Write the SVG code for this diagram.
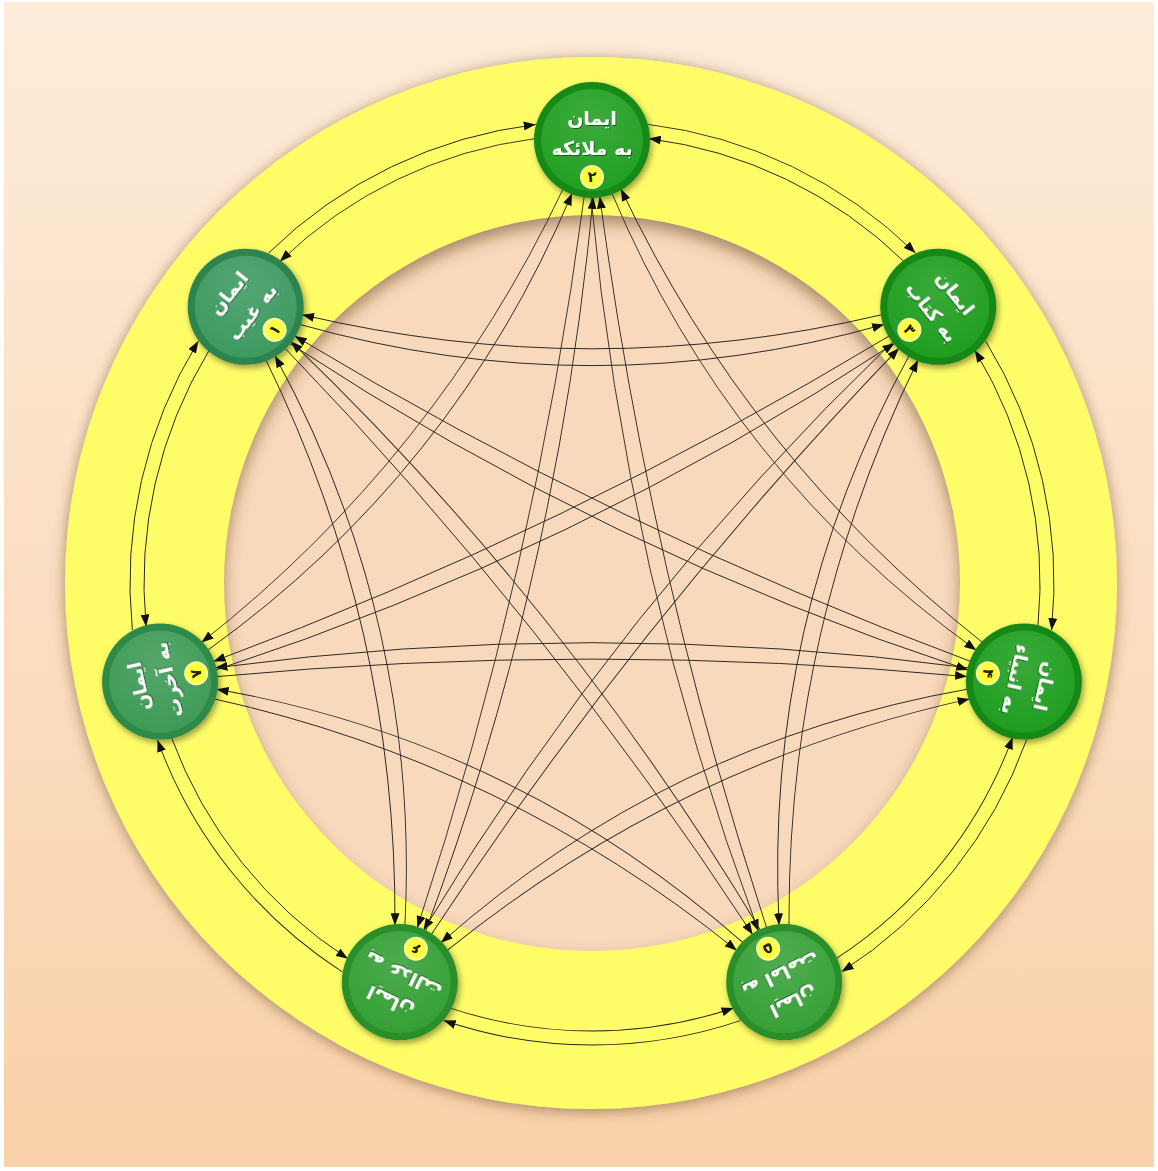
<svg xmlns="http://www.w3.org/2000/svg" width="1158" height="1171" viewBox="0 0 1158 1171">
<defs>
<linearGradient id="bg" x1="0" y1="0" x2="0" y2="1">
<stop offset="0" stop-color="#FDECDA"/>
<stop offset="1" stop-color="#F9D1AA"/>
</linearGradient>
<radialGradient id="hl" cx="0.5" cy="0.3" r="0.7">
<stop offset="0" stop-color="#ffffff" stop-opacity="0.12"/>
<stop offset="1" stop-color="#ffffff" stop-opacity="0"/>
</radialGradient>
<filter id="ringsh" x="-10%" y="-10%" width="120%" height="120%">
<feGaussianBlur in="SourceAlpha" stdDeviation="7"/>
<feOffset dx="0" dy="2" result="b"/>
<feFlood flood-color="#5a3a1a" flood-opacity="0.55"/>
<feComposite in2="b" operator="in"/>
<feMerge><feMergeNode/><feMergeNode in="SourceGraphic"/></feMerge>
</filter>
<filter id="blur8" x="-10%" y="-10%" width="120%" height="120%">
<feGaussianBlur stdDeviation="8"/>
</filter>
<filter id="nsh" x="-30%" y="-30%" width="160%" height="160%">
<feDropShadow dx="2" dy="3" stdDeviation="3" flood-color="#000" flood-opacity="0.4"/>
</filter>
<filter id="tsh" x="-20%" y="-20%" width="140%" height="140%">
<feDropShadow dx="1" dy="1" stdDeviation="0.6" flood-color="#000" flood-opacity="0.45"/>
</filter>
<clipPath id="innerClip"><circle cx="592" cy="583" r="368"/></clipPath>
<marker id="ah" markerUnits="userSpaceOnUse" markerWidth="12" markerHeight="9" viewBox="0 0 12 9" refX="12" refY="4.5" orient="auto">
<path d="M0,0 L12,4.5 L0,9 z" fill="#111"/>
</marker>
<style>
.edge{fill:none;stroke:#262626;stroke-width:0.9;marker-end:url(#ah)}
.lbl{font-family:"DejaVu Sans",sans-serif;font-weight:bold;font-size:19px;fill:#ffffff;text-anchor:middle}
.num{font-family:"DejaVu Sans",sans-serif;font-weight:bold;font-size:15px;fill:#222222;text-anchor:middle}
.badge{fill:#FFFF3A;stroke:#FFFFA8;stroke-width:2}
.hl{fill:url(#hl)}
</style>
</defs>

<rect x="0" y="0" width="1158" height="1171" fill="#ffffff"/>
<rect x="4" y="2" width="1150" height="1165" fill="url(#bg)"/>

<circle cx="591" cy="583" r="526" fill="#FEFD68" filter="url(#ringsh)"/>
<circle cx="592" cy="583" r="368" fill="#F9D9BC"/>
<g clip-path="url(#innerClip)">
<circle cx="592" cy="591" r="380" fill="none" stroke="#5a3a1a" stroke-opacity="0.55" stroke-width="22" filter="url(#blur8)"/>
</g>

<g id="connectors">
<g id="fan2">
<path class="edge" d="M648.3,124.4 A462,462 0 0 1 915.4,253.1"/>
<path class="edge" d="M535.1,138.6 A448,448 0 0 0 280.0,261.5"/>
<path class="edge" d="M612.0,193.4 Q729.8,473.2 976.3,650.2"/>
<path class="edge" d="M563.0,189.1 Q435.5,458.2 201.5,642.4"/>
<path class="edge" d="M590.9,197.0 Q625.7,575.3 758.5,931.3"/>
<path class="edge" d="M584.2,196.5 Q534.9,570.0 417.3,927.8"/>
</g>
<g id="fan3" transform="rotate(51.4286 592 583)">
<path class="edge" d="M648.3,124.4 A462,462 0 0 1 915.4,253.1"/>
<path class="edge" d="M535.1,138.6 A448,448 0 0 0 280.0,261.5"/>
<path class="edge" d="M612.0,193.4 Q729.8,473.2 976.3,650.2"/>
<path class="edge" d="M563.0,189.1 Q435.5,458.2 201.5,642.4"/>
<path class="edge" d="M590.9,197.0 Q625.7,575.3 758.5,931.3"/>
<path class="edge" d="M584.2,196.5 Q534.9,570.0 417.3,927.8"/>
</g>
<g id="fan4" transform="rotate(102.8571 592 583)">
<path class="edge" d="M648.3,124.4 A462,462 0 0 1 915.4,253.1"/>
<path class="edge" d="M535.1,138.6 A448,448 0 0 0 280.0,261.5"/>
<path class="edge" d="M612.0,193.4 Q729.8,473.2 976.3,650.2"/>
<path class="edge" d="M563.0,189.1 Q435.5,458.2 201.5,642.4"/>
<path class="edge" d="M590.9,197.0 Q625.7,575.3 758.5,931.3"/>
<path class="edge" d="M584.2,196.5 Q534.9,570.0 417.3,927.8"/>
</g>
<g id="fan5" transform="rotate(154.2857 592 583)">
<path class="edge" d="M648.3,124.4 A462,462 0 0 1 915.4,253.1"/>
<path class="edge" d="M535.1,138.6 A448,448 0 0 0 280.0,261.5"/>
<path class="edge" d="M612.0,193.4 Q729.8,473.2 976.3,650.2"/>
<path class="edge" d="M563.0,189.1 Q435.5,458.2 201.5,642.4"/>
<path class="edge" d="M590.9,197.0 Q625.7,575.3 758.5,931.3"/>
<path class="edge" d="M584.2,196.5 Q534.9,570.0 417.3,927.8"/>
</g>
<g id="fan6" transform="rotate(205.7143 592 583)">
<path class="edge" d="M648.3,124.4 A462,462 0 0 1 915.4,253.1"/>
<path class="edge" d="M535.1,138.6 A448,448 0 0 0 280.0,261.5"/>
<path class="edge" d="M612.0,193.4 Q729.8,473.2 976.3,650.2"/>
<path class="edge" d="M563.0,189.1 Q435.5,458.2 201.5,642.4"/>
<path class="edge" d="M590.9,197.0 Q625.7,575.3 758.5,931.3"/>
<path class="edge" d="M584.2,196.5 Q534.9,570.0 417.3,927.8"/>
</g>
<g id="fan7" transform="rotate(257.1429 592 583)">
<path class="edge" d="M648.3,124.4 A462,462 0 0 1 915.4,253.1"/>
<path class="edge" d="M535.1,138.6 A448,448 0 0 0 280.0,261.5"/>
<path class="edge" d="M612.0,193.4 Q729.8,473.2 976.3,650.2"/>
<path class="edge" d="M563.0,189.1 Q435.5,458.2 201.5,642.4"/>
<path class="edge" d="M590.9,197.0 Q625.7,575.3 758.5,931.3"/>
<path class="edge" d="M584.2,196.5 Q534.9,570.0 417.3,927.8"/>
</g>
<g id="fan1" transform="rotate(308.5714 592 583)">
<path class="edge" d="M648.3,124.4 A462,462 0 0 1 915.4,253.1"/>
<path class="edge" d="M535.1,138.6 A448,448 0 0 0 280.0,261.5"/>
<path class="edge" d="M612.0,193.4 Q729.8,473.2 976.3,650.2"/>
<path class="edge" d="M563.0,189.1 Q435.5,458.2 201.5,642.4"/>
<path class="edge" d="M590.9,197.0 Q625.7,575.3 758.5,931.3"/>
<path class="edge" d="M584.2,196.5 Q534.9,570.0 417.3,927.8"/>
</g>
</g>

<g id="node1" transform="translate(245.7 306.8)">
<circle r="58" fill="#2E8450" filter="url(#nsh)"/>
<circle r="51" fill="#3D9A60"/>
<circle r="51" class="hl"/>
<g transform="rotate(-51.43)" filter="url(#tsh)">
<text class="lbl" y="-15">ایمان</text>
<text class="lbl" y="15">به غیب</text>
</g>
<g transform="rotate(-51.43)">
<circle class="badge" cy="37" r="11"/>
<text class="num" y="42">۱</text>
</g>
</g>

<g id="node2" transform="translate(592 140)">
<circle r="58" fill="#178A17" filter="url(#nsh)"/>
<circle r="51" fill="#22A022"/>
<circle r="51" class="hl"/>
<g filter="url(#tsh)">
<text class="lbl" y="-15">ایمان</text>
<text class="lbl" y="15">به ملائکه</text>
</g>
<circle class="badge" cy="37" r="11"/>
<text class="num" y="42">۲</text>
</g>

<g id="node3" transform="translate(938.3 306.8)">
<circle r="58" fill="#168816" filter="url(#nsh)"/>
<circle r="51" fill="#1F9E1F"/>
<circle r="51" class="hl"/>
<g transform="rotate(51.43)" filter="url(#tsh)">
<text class="lbl" y="-15">ایمان</text>
<text class="lbl" y="15">به کتاب</text>
</g>
<g transform="rotate(51.43)">
<circle class="badge" cy="37" r="11"/>
<text class="num" y="42">۳</text>
</g>
</g>

<g id="node4" transform="translate(1023.9 681.6)">
<circle r="58" fill="#168816" filter="url(#nsh)"/>
<circle r="51" fill="#1F9E1F"/>
<circle r="51" class="hl"/>
<g transform="rotate(102.86)" filter="url(#tsh)">
<text class="lbl" y="-15">ایمان</text>
<text class="lbl" y="15">به انبیاء</text>
</g>
<g transform="rotate(102.86)">
<circle class="badge" cy="37" r="11"/>
<text class="num" y="42">۴</text>
</g>
</g>

<g id="node5" transform="translate(784.2 982.1)">
<circle r="58" fill="#2A8F2A" filter="url(#nsh)"/>
<circle r="51" fill="#37A137"/>
<circle r="51" class="hl"/>
<g transform="rotate(154.29)" filter="url(#tsh)">
<text class="lbl" y="-15">ایمان</text>
<text class="lbl" y="15">به امامت</text>
</g>
<g transform="rotate(154.29)">
<circle class="badge" cy="37" r="11"/>
<text class="num" y="42">۵</text>
</g>
</g>

<g id="node6" transform="translate(399.8 982.1)">
<circle r="58" fill="#2A8F2A" filter="url(#nsh)"/>
<circle r="51" fill="#35A035"/>
<circle r="51" class="hl"/>
<g transform="rotate(205.71)" filter="url(#tsh)">
<text class="lbl" y="-15">ایمان</text>
<text class="lbl" y="15">به عدالت</text>
</g>
<g transform="rotate(205.71)">
<circle class="badge" cy="37" r="11"/>
<text class="num" y="42">۶</text>
</g>
</g>

<g id="node7" transform="translate(160.1 681.6)">
<circle r="58" fill="#2F8A48" filter="url(#nsh)"/>
<circle r="51" fill="#3E9B56"/>
<circle r="51" class="hl"/>
<g transform="rotate(-102.86)" filter="url(#tsh)">
<text class="lbl" y="-15">ایمان</text>
<text class="lbl" y="15">به آخرت</text>
</g>
<g transform="rotate(-102.86)">
<circle class="badge" cy="37" r="11"/>
<text class="num" y="42">۷</text>
</g>
</g>
</svg>
